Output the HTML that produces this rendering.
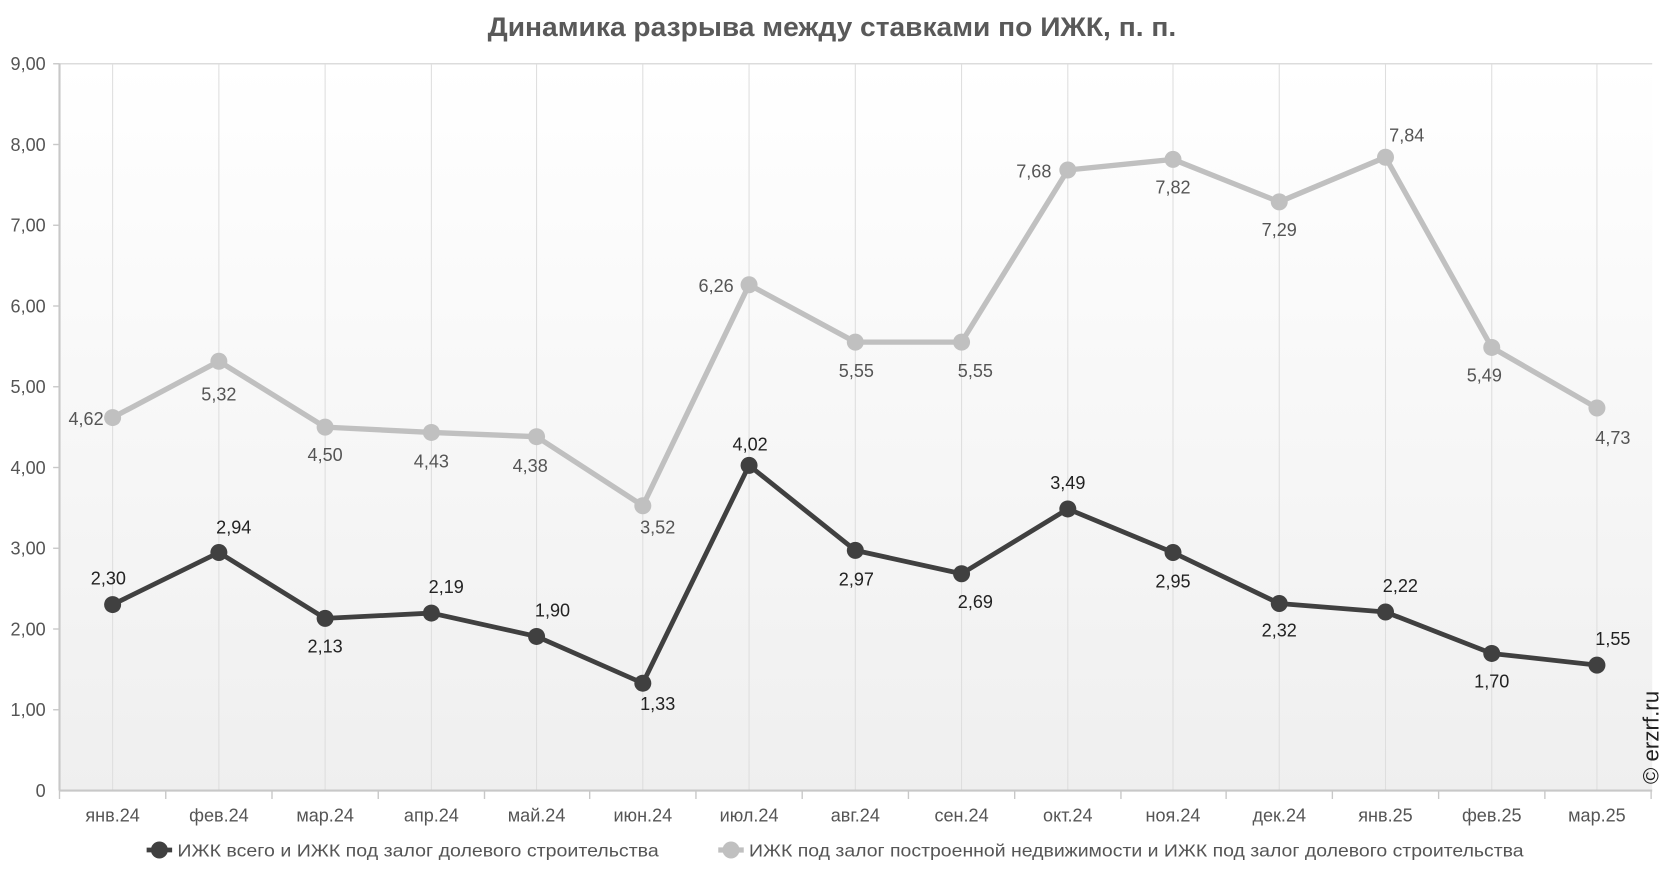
<!DOCTYPE html>
<html><head><meta charset="utf-8"><style>
html,body{margin:0;padding:0;background:#fff;}
svg{display:block;font-family:"Liberation Sans","DejaVu Sans",sans-serif;}
</style></head><body>
<svg width="1666" height="872" viewBox="0 0 1568 820.7" preserveAspectRatio="none" xml:space="preserve">
<defs><linearGradient id="bg" x1="0" y1="0" x2="0" y2="1"><stop offset="0" stop-color="#ffffff"/><stop offset="1" stop-color="#efefef"/></linearGradient></defs>
<text x="459" y="34" font-size="25" font-weight="bold" fill="#595959" textLength="648" lengthAdjust="spacingAndGlyphs">Динамика разрыва между ставками по ИЖК, п. п.</text>
<rect x="56" y="60" width="1499" height="684" fill="url(#bg)"/>
<line x1="56" y1="60" x2="1555" y2="60" stroke="#dcdcdc" stroke-width="1.3"/>
<g stroke="#dedede" stroke-width="1">
<line x1="106" y1="60" x2="106" y2="744"/><line x1="206" y1="60" x2="206" y2="744"/><line x1="306" y1="60" x2="306" y2="744"/><line x1="406" y1="60" x2="406" y2="744"/><line x1="505" y1="60" x2="505" y2="744"/><line x1="605" y1="60" x2="605" y2="744"/><line x1="705" y1="60" x2="705" y2="744"/><line x1="805" y1="60" x2="805" y2="744"/><line x1="905" y1="60" x2="905" y2="744"/><line x1="1005" y1="60" x2="1005" y2="744"/><line x1="1104" y1="60" x2="1104" y2="744"/><line x1="1204" y1="60" x2="1204" y2="744"/><line x1="1304" y1="60" x2="1304" y2="744"/><line x1="1404" y1="60" x2="1404" y2="744"/><line x1="1503" y1="60" x2="1503" y2="744"/>
</g>
<line x1="56" y1="60" x2="56" y2="744" stroke="#c8c8c8" stroke-width="2"/>
<line x1="56" y1="744" x2="1555" y2="744" stroke="#c8c8c8" stroke-width="2"/>
<g stroke="#c8c8c8" stroke-width="1.3">
<line x1="50" y1="60" x2="56" y2="60"/><line x1="50" y1="136" x2="56" y2="136"/><line x1="50" y1="212" x2="56" y2="212"/><line x1="50" y1="288" x2="56" y2="288"/><line x1="50" y1="364" x2="56" y2="364"/><line x1="50" y1="440" x2="56" y2="440"/><line x1="50" y1="516" x2="56" y2="516"/><line x1="50" y1="592" x2="56" y2="592"/><line x1="50" y1="668" x2="56" y2="668"/>
<line x1="56" y1="744" x2="56" y2="752"/><line x1="156" y1="744" x2="156" y2="752"/><line x1="256" y1="744" x2="256" y2="752"/><line x1="356" y1="744" x2="356" y2="752"/><line x1="456" y1="744" x2="456" y2="752"/><line x1="555" y1="744" x2="555" y2="752"/><line x1="655" y1="744" x2="655" y2="752"/><line x1="755" y1="744" x2="755" y2="752"/><line x1="855" y1="744" x2="855" y2="752"/><line x1="955" y1="744" x2="955" y2="752"/><line x1="1055" y1="744" x2="1055" y2="752"/><line x1="1154" y1="744" x2="1154" y2="752"/><line x1="1254" y1="744" x2="1254" y2="752"/><line x1="1354" y1="744" x2="1354" y2="752"/><line x1="1454" y1="744" x2="1454" y2="752"/><line x1="1554" y1="744" x2="1554" y2="752"/>
</g>
<g font-size="17" fill="#555" text-anchor="end">
<text x="43" y="66">9,00</text><text x="43" y="142">8,00</text><text x="43" y="218">7,00</text><text x="43" y="294">6,00</text><text x="43" y="370">5,00</text><text x="43" y="446">4,00</text><text x="43" y="522">3,00</text><text x="43" y="598">2,00</text><text x="43" y="674">1,00</text><text x="43" y="750">0</text>
</g>
<g font-size="17" fill="#555" text-anchor="middle">
<text x="106" y="773">янв.24</text><text x="206" y="773">фев.24</text><text x="306" y="773">мар.24</text><text x="406" y="773">апр.24</text><text x="505" y="773">май.24</text><text x="605" y="773">июн.24</text><text x="705" y="773">июл.24</text><text x="805" y="773">авг.24</text><text x="905" y="773">сен.24</text><text x="1005" y="773">окт.24</text><text x="1104" y="773">ноя.24</text><text x="1204" y="773">дек.24</text><text x="1304" y="773">янв.25</text><text x="1404" y="773">фев.25</text><text x="1503" y="773">мар.25</text>
</g>
<polyline fill="none" stroke="#c0c0c0" stroke-width="5" stroke-linejoin="round" points="106,393 206,340 306,402 406,407 505,411 605,476 705,268 805,322 905,322 1005,160 1104,150 1204,190 1304,148 1404,327 1503,384"/>
<g fill="#c0c0c0">
<circle cx="106" cy="393" r="8"/><circle cx="206" cy="340" r="8"/><circle cx="306" cy="402" r="8"/><circle cx="406" cy="407" r="8"/><circle cx="505" cy="411" r="8"/><circle cx="605" cy="476" r="8"/><circle cx="705" cy="268" r="8"/><circle cx="805" cy="322" r="8"/><circle cx="905" cy="322" r="8"/><circle cx="1005" cy="160" r="8"/><circle cx="1104" cy="150" r="8"/><circle cx="1204" cy="190" r="8"/><circle cx="1304" cy="148" r="8"/><circle cx="1404" cy="327" r="8"/><circle cx="1503" cy="384" r="8"/>
</g>
<polyline fill="none" stroke="#404040" stroke-width="4.5" stroke-linejoin="round" points="106,569 206,520 306,582 406,577 505,599 605,643 705,438 805,518 905,540 1005,479 1104,520 1204,568 1304,576 1404,615 1503,626"/>
<g fill="#404040">
<circle cx="106" cy="569" r="8"/><circle cx="206" cy="520" r="8"/><circle cx="306" cy="582" r="8"/><circle cx="406" cy="577" r="8"/><circle cx="505" cy="599" r="8"/><circle cx="605" cy="643" r="8"/><circle cx="705" cy="438" r="8"/><circle cx="805" cy="518" r="8"/><circle cx="905" cy="540" r="8"/><circle cx="1005" cy="479" r="8"/><circle cx="1104" cy="520" r="8"/><circle cx="1204" cy="568" r="8"/><circle cx="1304" cy="576" r="8"/><circle cx="1404" cy="615" r="8"/><circle cx="1503" cy="626" r="8"/>
</g>
<g font-size="17" fill="#555" text-anchor="middle">
<text x="81" y="400">4,62</text><text x="206" y="377">5,32</text><text x="306" y="434">4,50</text><text x="406" y="440">4,43</text><text x="499" y="444">4,38</text><text x="619" y="502">3,52</text><text x="674" y="275">6,26</text><text x="806" y="355">5,55</text><text x="918" y="355">5,55</text><text x="973" y="167">7,68</text><text x="1104" y="182">7,82</text><text x="1204" y="222">7,29</text><text x="1324" y="133">7,84</text><text x="1397" y="359">5,49</text><text x="1518" y="418">4,73</text>
</g>
<g font-size="17" fill="#222" text-anchor="middle">
<text x="102" y="550">2,30</text><text x="220" y="502">2,94</text><text x="306" y="614">2,13</text><text x="420" y="558">2,19</text><text x="520" y="580">1,90</text><text x="619" y="668">1,33</text><text x="706" y="424">4,02</text><text x="806" y="551">2,97</text><text x="918" y="572">2,69</text><text x="1005" y="460">3,49</text><text x="1104" y="553">2,95</text><text x="1204" y="599">2,32</text><text x="1318" y="557">2,22</text><text x="1404" y="647">1,70</text><text x="1518" y="607">1,55</text>
</g>
<text transform="translate(1561,738) rotate(-90)" font-size="21" fill="#222">© erzrf.ru</text>
<g font-size="16.5" fill="#555">
<line x1="138" y1="800" x2="162" y2="800" stroke="#404040" stroke-width="4.5"/><circle cx="150" cy="800" r="8" fill="#404040"/>
<text x="167" y="806" textLength="453" lengthAdjust="spacingAndGlyphs">ИЖК всего  и  ИЖК под залог долевого строительства</text>
<line x1="676" y1="800" x2="700" y2="800" stroke="#c0c0c0" stroke-width="5"/><circle cx="688" cy="800" r="8" fill="#c0c0c0"/>
<text x="705" y="806" textLength="729" lengthAdjust="spacingAndGlyphs">ИЖК под залог построенной недвижимости  и  ИЖК под залог долевого строительства</text>
</g>
</svg>
</body></html>
